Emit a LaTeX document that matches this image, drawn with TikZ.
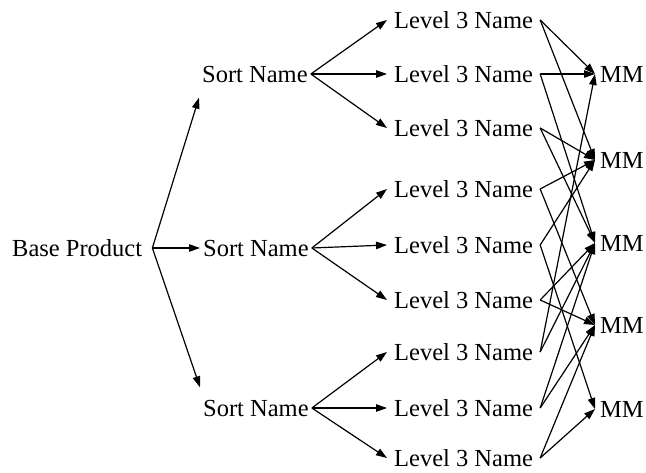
\documentclass[tikz,border=0pt]{standalone}
\usepackage{fontspec}
\setmainfont{Liberation Serif}
\usetikzlibrary{arrows.meta}
\begin{document}
\begin{tikzpicture}[x=1bp,y=-1bp,
  lbl/.style={anchor=west,inner ysep=0pt,text height=17bp,text depth=0bp,
              font=\fontsize{24.5bp}{29bp}\selectfont},
  basebox/.style={lbl,inner xsep=10bp},
  sortbox/.style={lbl,inner xsep=3bp},
  levelbox/.style={lbl,inner xsep=7bp},
  mmbox/.style={lbl,inner xsep=5bp},
  conn/.style={draw=black,line width=1.2bp,-{Triangle[length=11bp,width=7.5bp]}}
]
\useasboundingbox (0,0) rectangle (646,473);
% base
\node[basebox] (base) at (2,248) {Base Product};
% sort names
\node[sortbox] (s1) at (199,74) {Sort Name};
\node[sortbox] (s2) at (200,248) {Sort Name};
\node[sortbox] (s3) at (200,408) {Sort Name};
% level 3 names
\node[levelbox] (l1) at (387,20) {Level 3 Name};
\node[levelbox] (l2) at (387,74) {Level 3 Name};
\node[levelbox] (l3) at (387,128) {Level 3 Name};
\node[levelbox] (l4) at (387,189) {Level 3 Name};
\node[levelbox] (l5) at (387,245) {Level 3 Name};
\node[levelbox] (l6) at (387,300) {Level 3 Name};
\node[levelbox] (l7) at (387,352) {Level 3 Name};
\node[levelbox] (l8) at (387,408) {Level 3 Name};
\node[levelbox] (l9) at (387,458) {Level 3 Name};
% MM
\node[mmbox] (m1) at (595,74) {MM};
\node[mmbox] (m2) at (595,160) {MM};
\node[mmbox] (m3) at (595,243) {MM};
\node[mmbox] (m4) at (595,325) {MM};
\node[mmbox] (m5) at (595,409) {MM};
% base -> sort
\draw[conn] (base.east) -- ([yshift=-15bp]s1.south west);
\draw[conn] (base.east) -- (s2.west);
\draw[conn] (base.east) -- ([yshift=12bp]s3.north west);
% sort -> level
\foreach \s/\a/\b/\c in {s1/l1/l2/l3, s2/l4/l5/l6, s3/l7/l8/l9}{
  \draw[conn] (\s.east) -- (\a.west);
  \draw[conn] (\s.east) -- (\b.west);
  \draw[conn] (\s.east) -- (\c.west);
}
% level -> MM
\foreach \l/\m in {l1/m1, l1/m2, l2/m1, l2/m3, l3/m2, l3/m3, l4/m2, l4/m4,
                   l5/m2, l5/m5, l6/m3, l6/m4, l7/m1, l7/m3, l8/m3, l8/m4,
                   l9/m4, l9/m5}{
  \draw[conn] (\l.east) -- (\m.west);
}
\end{tikzpicture}
\end{document}
